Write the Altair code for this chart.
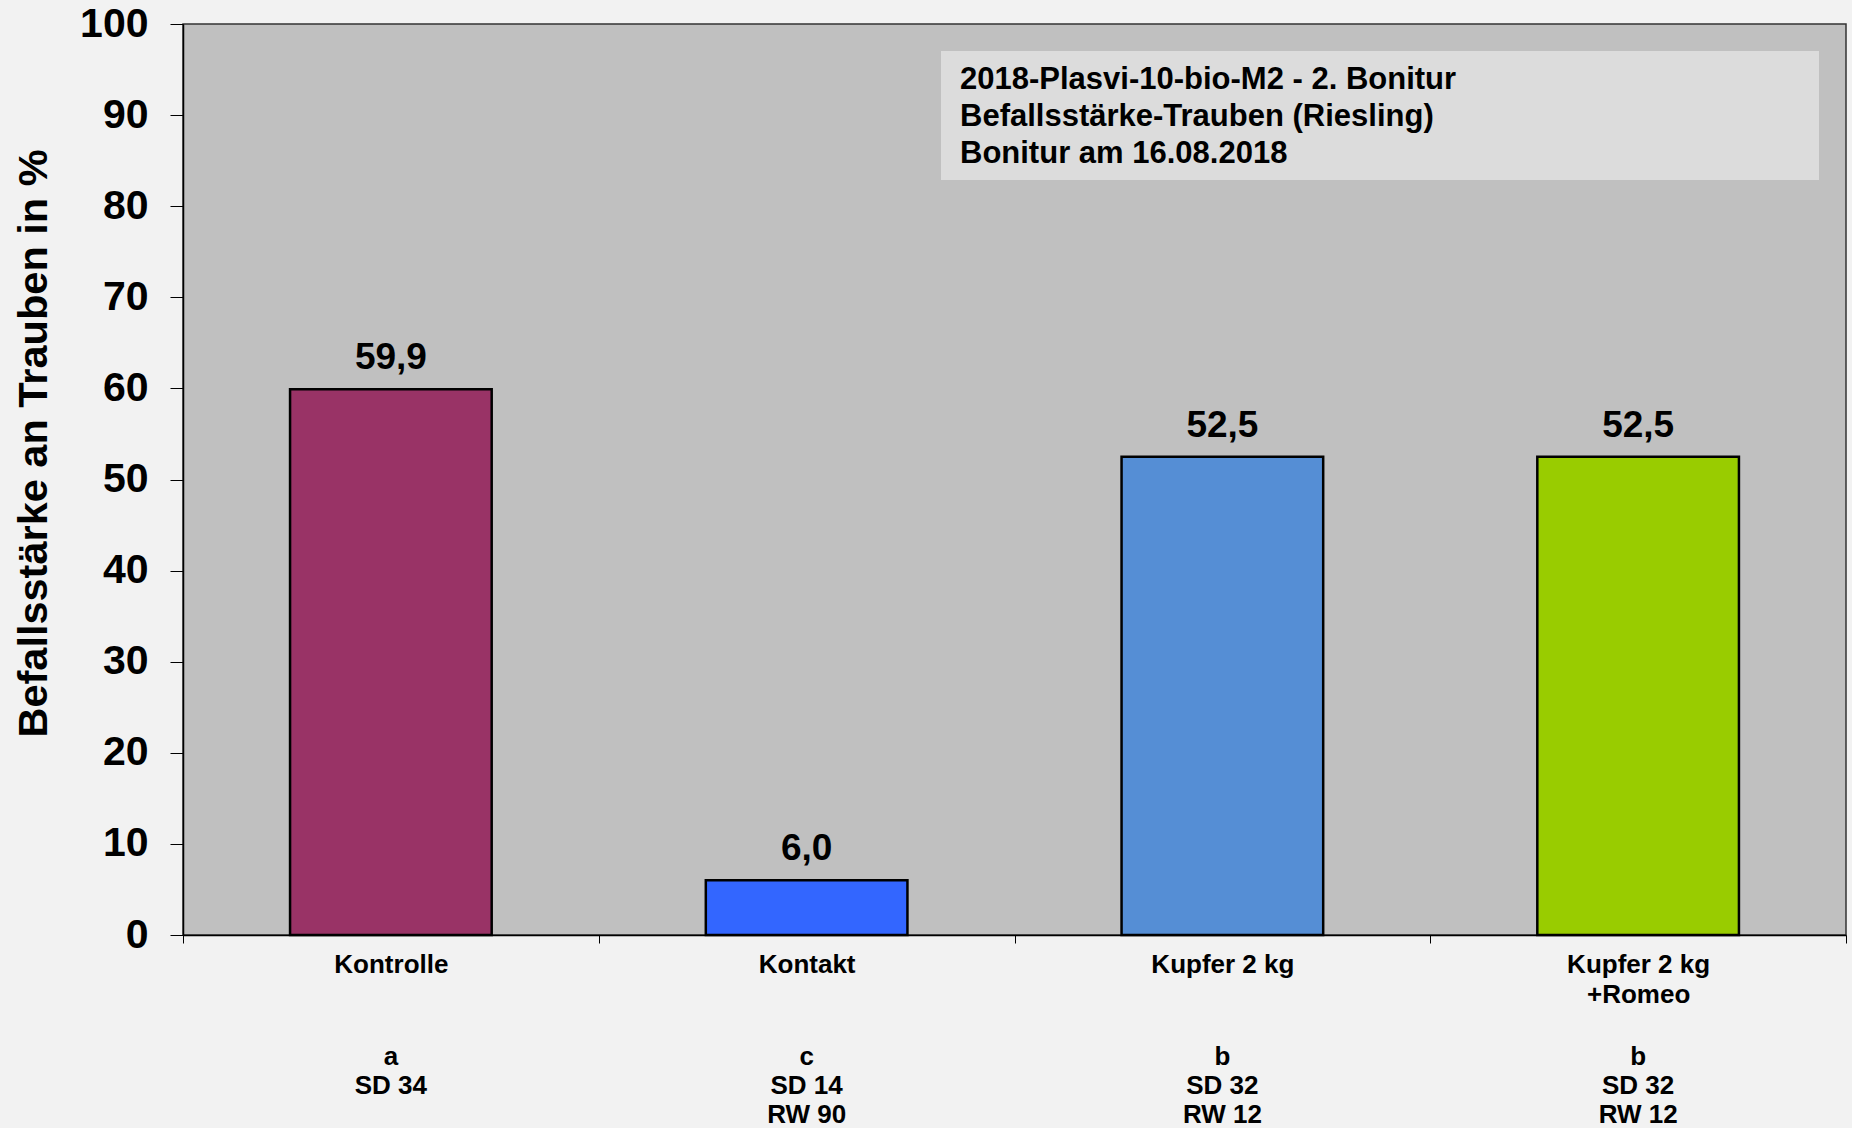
import altair as alt
import pandas as pd

# Treatments (first and second line of the category label)
treatments = ["Kontrolle", "Kontakt", "Kupfer 2 kg", "Kupfer 2 kg"]
treatments_line2 = ["", "", "", "+Romeo"]
# Disease severity on grapes in %
befall = [59.9, 6.0, 52.5, 52.5]
# Statistics shown below each category
letters = ["a", "c", "b", "b"]
sd_labels = ["SD 34", "SD 14", "SD 32", "SD 32"]
rw_labels = ["", "RW 90", "RW 12", "RW 12"]
bar_colors = ["#993366", "#3366FF", "#558ED5", "#99CC00"]

title_lines = [
    "2018-Plasvi-10-bio-M2 - 2. Bonitur",
    "Befallsstärke-Trauben (Riesling)",
    "Bonitur am 16.08.2018",
]

FONT = "Liberation Sans, Arial, sans-serif"

labels = ["|".join([t, t2]) if t2 else t for t, t2 in zip(treatments, treatments_line2)]
stats = ["\n".join([l, s, r]) for l, s, r in zip(letters, sd_labels, rw_labels)]

df = pd.DataFrame({"label": labels, "value": befall, "color": bar_colors, "stats": stats})

W, H = 1663, 911

x_enc = alt.X(
    "label:N",
    sort=labels,
    scale=alt.Scale(paddingInner=0, paddingOuter=0),
    axis=alt.Axis(
        title=None,
        labelExpr="split(datum.label, '|')",
        labelAngle=0,
        labelFont=FONT,
        labelFontSize=26,
        labelFontWeight="bold",
        labelColor="#000000",
        labelLineHeight=30,
        labelPadding=8,
        labelBaseline="top",
        tickBand="extent",
        tickSize=8,
        tickColor="#000000",
        tickWidth=1,
        domainColor="#000000",
        domainWidth=1.5,
        labelOverlap=False,
    ),
)

y_enc = alt.Y(
    "value:Q",
    scale=alt.Scale(domain=[0, 100], nice=False),
    axis=alt.Axis(
        title="Befallsstärke an Trauben in %",
        titleFont=FONT,
        titleFontSize=41.5,
        titleFontWeight="bold",
        titleColor="#000000",
        titleX=-128,
        titleY=419,
        titleAngle=-90,
        titleAlign="center",
        titleBaseline="bottom",
        values=list(range(0, 101, 10)),
        labelFont=FONT,
        labelFontSize=41,
        labelFontWeight="bold",
        labelColor="#000000",
        labelPadding=22,
        tickSize=13,
        tickColor="#000000",
        tickWidth=1,
        domainColor="#000000",
        domainWidth=1.5,
        grid=False,
    ),
)

bars = alt.Chart(df).mark_bar(
    stroke="#000000", strokeWidth=2.5, width=alt.RelativeBandSize(0.485)
).encode(
    x=x_enc,
    y=y_enc,
    color=alt.Color("color:N", scale=None),
)

values_text = alt.Chart(df).transform_calculate(
    txt="replace(format(datum.value, '.1f'), '.', ',')"
).mark_text(
    font=FONT, fontSize=37, fontWeight="bold", color="#000000", baseline="alphabetic", dy=-20
).encode(
    x=alt.X("label:N", sort=labels),
    y=alt.Y("value:Q"),
    text="txt:N",
)

# Significance letter, SD and RW below each category
stats_text = alt.Chart(df).mark_text(
    font=FONT, fontSize=26, fontWeight="bold", color="#000000",
    baseline="middle", lineBreak="\n", lineHeight=29,
).encode(
    x=alt.X("label:N", sort=labels),
    y=alt.value(1033),
    text="stats:N",
)

title_df = pd.DataFrame({"t": ["\n".join(title_lines)]})

title_box = alt.Chart(title_df).mark_rect(color="#DCDCDC").encode(
    x=alt.value(758), x2=alt.value(1636), y=alt.value(27), y2=alt.value(156)
)

title_text = alt.Chart(title_df).mark_text(
    font=FONT, fontSize=31, fontWeight="bold", color="#000000",
    align="left", baseline="middle", lineBreak="\n", lineHeight=37,
).encode(x=alt.value(777), y=alt.value(56), text="t:N")

chart = alt.layer(bars, values_text, stats_text, title_box, title_text).properties(
    width=W,
    height=H,
    autosize=alt.AutoSizeParams(type="none"),
    padding={"left": 183, "top": 24, "right": 6, "bottom": 193},
    background="#F2F2F2",
).configure_view(
    fill="#C0C0C0", stroke="#333333", strokeWidth=1.5
)

chart.save("out.html", embed_options={"renderer": "svg", "actions": False})
